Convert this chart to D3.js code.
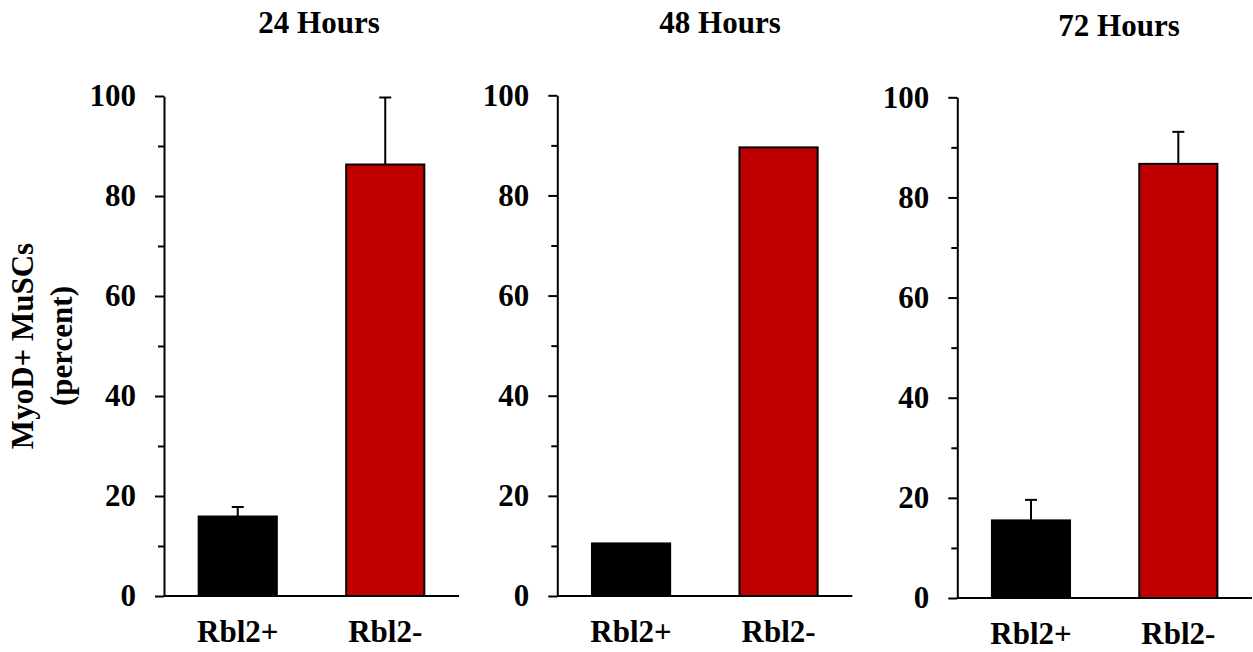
<!DOCTYPE html>
<html>
<head>
<meta charset="utf-8">
<script src="https://cdn.jsdelivr.net/npm/d3@7"></script>
<style>
  html, body { margin: 0; padding: 0; background: #fff; }
  svg text { font-family: "Liberation Serif", "Times New Roman", serif; font-weight: bold; fill: #000; }
</style>
</head>
<body>
<svg id="chart" width="1253" height="652"></svg>
<script>
// ---- data ----
const categories = ["Rbl2+", "Rbl2-"];
const panelTitles = ["24 Hours", "48 Hours", "72 Hours"];
const means24 = [15.9, 86.3];
const errors24 = [1.9, 13.4];
const means48 = [10.5, 89.6];
const errors48 = [0, 0];
const means72 = [15.5, 86.7];
const errors72 = [4.1, 6.4];
const majorTicks = [0, 20, 40, 60, 80, 100];
const minorTicks = [10, 30, 50, 70, 90];
const yLabelLines = ["MyoD+ MuSCs", "(percent)"];
const barColors = ["#000000", "#c00000"];

// ---- layout ----
const layouts = [
  { x0: 164,   x1: 459,  top: 96,   bottom: 596, tx: 319,  ty: 33 },
  { x0: 557.3, x1: 852.3, top: 95.3, bottom: 596, tx: 720,  ty: 33 },
  { x0: 957.3, x1: 1252, top: 97.3, bottom: 598, tx: 1119, ty: 36 }
];
const panels = [
  { title: panelTitles[0], means: means24, errors: errors24 },
  { title: panelTitles[1], means: means48, errors: errors48 },
  { title: panelTitles[2], means: means72, errors: errors72 }
];
const fontSize = 31;

const svg = d3.select("#chart");

panels.forEach((p, i) => {
  const L = layouts[i];
  const g = svg.append("g");
  const y = d3.scaleLinear().domain([0, 100]).range([L.bottom, L.top]);
  const x = d3.scaleBand().domain(categories).range([L.x0, L.x1])
    .paddingInner(0.47).paddingOuter(0.235);

  // title
  g.append("text").attr("x", L.tx).attr("y", L.ty)
    .attr("text-anchor", "middle").style("font-size", fontSize + "px")
    .text(p.title);

  // bars
  const data = categories.map((c, k) => ({ c, v: p.means[k], e: p.errors[k], k }));
  // error bars (drawn first, under nothing)
  data.filter(d => d.e > 0).forEach(d => {
    const cx = x(d.c) + x.bandwidth() / 2;
    g.append("line").attr("x1", cx).attr("x2", cx)
      .attr("y1", y(d.v)).attr("y2", y(d.v + d.e))
      .attr("stroke", "#000").attr("stroke-width", 2);
    g.append("line").attr("x1", cx - 6).attr("x2", cx + 6)
      .attr("y1", y(d.v + d.e)).attr("y2", y(d.v + d.e))
      .attr("stroke", "#000").attr("stroke-width", 2);
  });
  g.selectAll("rect.bar").data(data).enter().append("rect")
    .attr("class", "bar")
    .attr("x", d => x(d.c))
    .attr("width", x.bandwidth())
    .attr("y", d => y(d.v))
    .attr("height", d => y(0) - y(d.v))
    .attr("fill", d => barColors[d.k])
    .attr("stroke", "#000").attr("stroke-width", 2);

  // x axis line
  g.append("line").attr("x1", L.x0).attr("x2", L.x1)
    .attr("y1", y(0)).attr("y2", y(0))
    .attr("stroke", "#000").attr("stroke-width", 2);

  // x labels
  g.selectAll("text.xl").data(categories).enter().append("text")
    .attr("class", "xl")
    .attr("x", d => x(d) + x.bandwidth() / 2)
    .attr("y", L.bottom + 46)
    .attr("text-anchor", "middle").style("font-size", fontSize + "px")
    .text(d => d);

  // y axis (major)
  const yAxis = d3.axisLeft(y).tickValues(majorTicks).tickSize(9)
    .tickSizeOuter(0).tickPadding(19).tickFormat(d3.format("d"));
  const ga = g.append("g").attr("transform", `translate(${L.x0},0)`).call(yAxis);
  ga.select(".domain").attr("stroke", "#000").attr("stroke-width", 2);
  ga.selectAll(".tick line").attr("stroke", "#000").attr("stroke-width", 2);
  ga.selectAll(".tick text").style("font-size", fontSize + "px")
    .style("font-family", '"Liberation Serif", "Times New Roman", serif')
    .style("font-weight", "bold").attr("fill", "#000");

  // minor ticks
  const yMinor = d3.axisLeft(y).tickValues(minorTicks).tickSize(6)
    .tickSizeOuter(0).tickFormat("");
  const gm = g.append("g").attr("transform", `translate(${L.x0},0)`).call(yMinor);
  gm.select(".domain").remove();
  gm.selectAll(".tick line").attr("stroke", "#000").attr("stroke-width", 2);
});

// y-axis label
const yl = svg.append("text")
  .attr("transform", "translate(33,346) rotate(-90)")
  .attr("text-anchor", "middle")
  .style("font-size", fontSize + "px");
yl.append("tspan").attr("x", 0).attr("y", 0).text(yLabelLines[0]);
yl.append("tspan").attr("x", 0).attr("y", 39).text(yLabelLines[1]);
</script>
</body>
</html>
